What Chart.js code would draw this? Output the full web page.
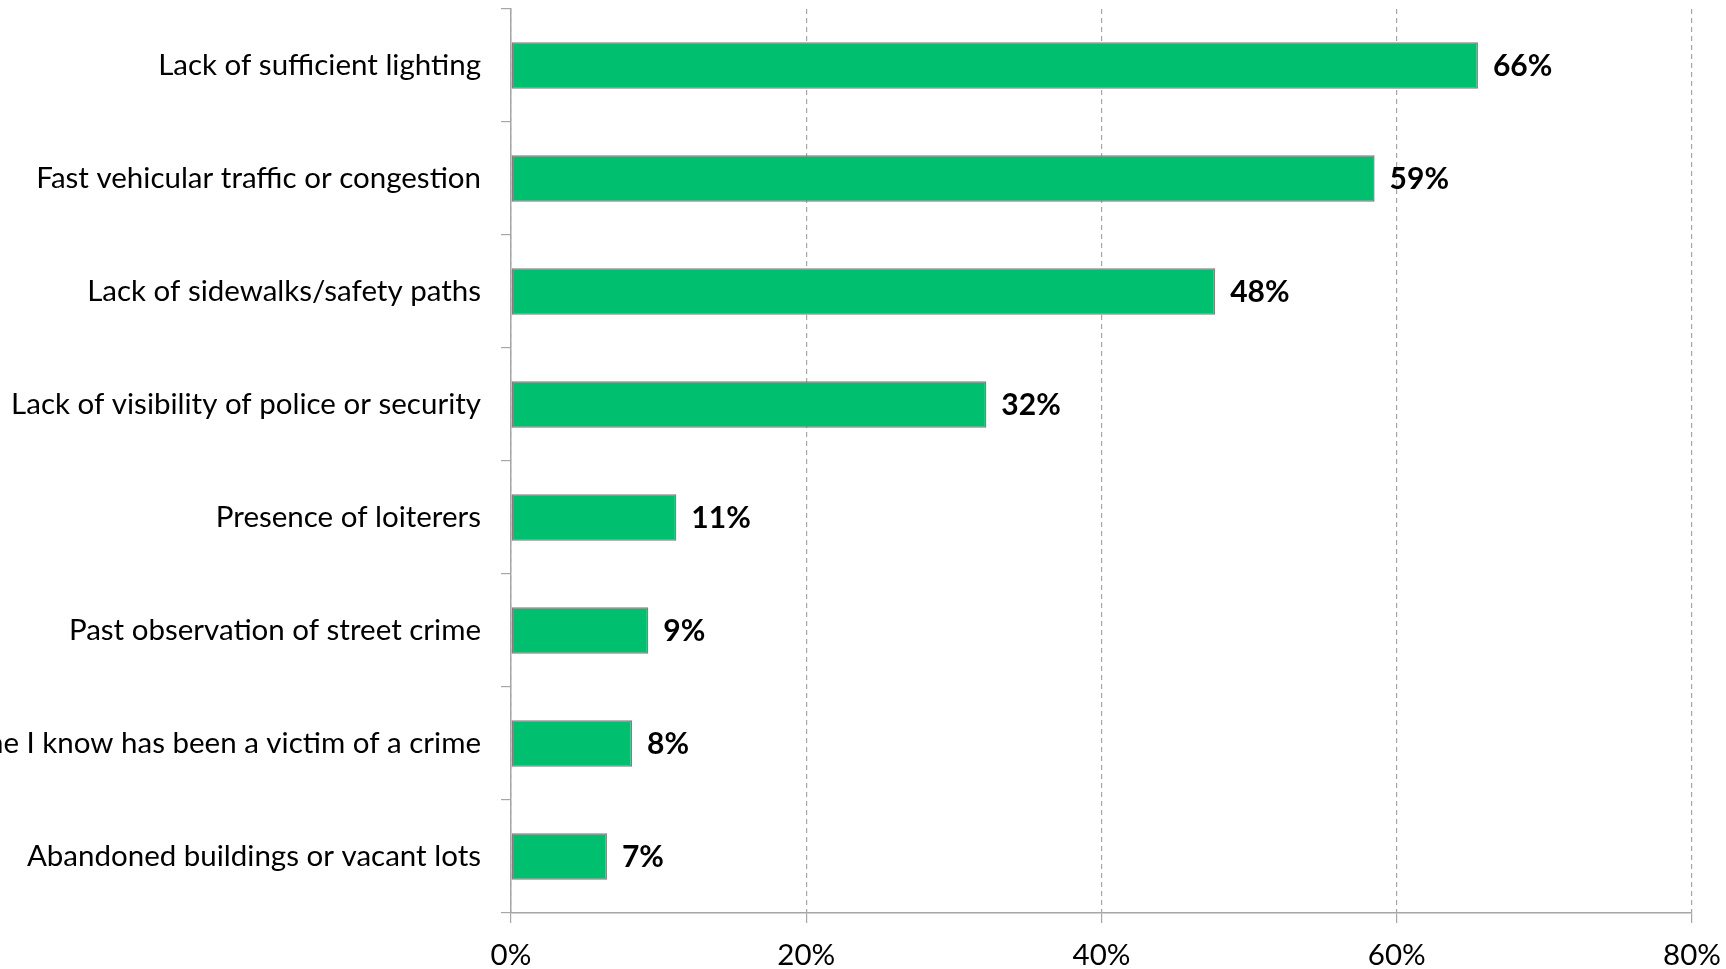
<!DOCTYPE html>
<html>
<head>
<meta charset="utf-8">
<script src="https://cdn.jsdelivr.net/npm/chart.js@4"></script>
<style>
  html, body { margin: 0; padding: 0; background: #fff; }
  canvas { display: block; }
</style>
</head>
<body>
<canvas id="chart" width="1726" height="969"></canvas>
<script>
const categories = [
    'Lack of sufficient lighting',
    'Fast vehicular traffic or congestion',
    'Lack of sidewalks/safety paths',
    'Lack of visibility of police or security',
    'Presence of loiterers',
    'Past observation of street crime',
    'Someone I know has been a victim of a crime',
    'Abandoned buildings or vacant lots'
];
const shares = [65.5, 58.5, 47.7, 32.2, 11.2, 9.3, 8.2, 6.5];
const xTicks = [0, 20, 40, 60, 80];

const FONT = 'Lato, "Open Sans", sans-serif';
const GRID = '#a6a6a6';

// value labels at the end of each bar
const barLabels = {
    id: 'barLabels',
    afterDatasetsDraw(chart) {
        const ctx = chart.ctx;
        const meta = chart.getDatasetMeta(0);
        ctx.save();
        ctx.font = 'bold 30px ' + FONT;
        ctx.fillStyle = '#000';
        ctx.textAlign = 'left';
        ctx.textBaseline = 'middle';
        meta.data.forEach((bar, i) => {
            ctx.fillText(Math.round(shares[i]) + '%', bar.x + 15, bar.y + 1);
        });
        ctx.restore();
    }
};

new Chart(document.getElementById('chart'), {
    type: 'bar',
    data: {
        labels: categories,
        datasets: [{
            data: shares,
            backgroundColor: '#00bf6f',
            borderColor: '#7f7f7f',
            borderWidth: 1.5,
            borderSkipped: false,
            categoryPercentage: 1,
            barPercentage: 0.41
        }]
    },
    options: {
        indexAxis: 'y',
        responsive: false,
        animation: false,
        layout: { padding: { top: 9, right: 34, left: 0, bottom: 0 } },
        plugins: {
            legend: { display: false },
            tooltip: { enabled: false }
        },
        scales: {
            x: {
                min: 0,
                max: 80,
                afterBuildTicks: (scale) => {
                    scale.ticks = xTicks.map(v => ({ value: v }));
                },
                afterFit: (scale) => {
                    scale.paddingLeft = 0;
                    scale.paddingRight = 0;
                    scale.height = 56;
                },
                ticks: {
                    callback: v => v + '%',
                    font: { family: FONT, size: 29.5 },
                    color: '#000',
                    padding: 15,
                    maxRotation: 0
                },
                grid: {
                    color: GRID,
                    lineWidth: 1.2,
                    tickLength: 10,
                    tickColor: GRID,
                    tickBorderDash: []
                },
                border: { color: GRID, width: 1.5, dash: [5, 4] }
            },
            y: {
                afterFit: (scale) => {
                    scale.width = 511;
                    scale.paddingTop = 0;
                    scale.paddingBottom = 0;
                },
                ticks: {
                    font: { family: FONT, size: 29.5 },
                    color: '#000',
                    padding: 20
                },
                grid: {
                    offset: true,
                    drawOnChartArea: false,
                    tickLength: 10,
                    color: GRID,
                    lineWidth: 1.2
                },
                border: { color: GRID, width: 1.5 }
            }
        }
    },
    plugins: [barLabels]
});
</script>
</body>
</html>
